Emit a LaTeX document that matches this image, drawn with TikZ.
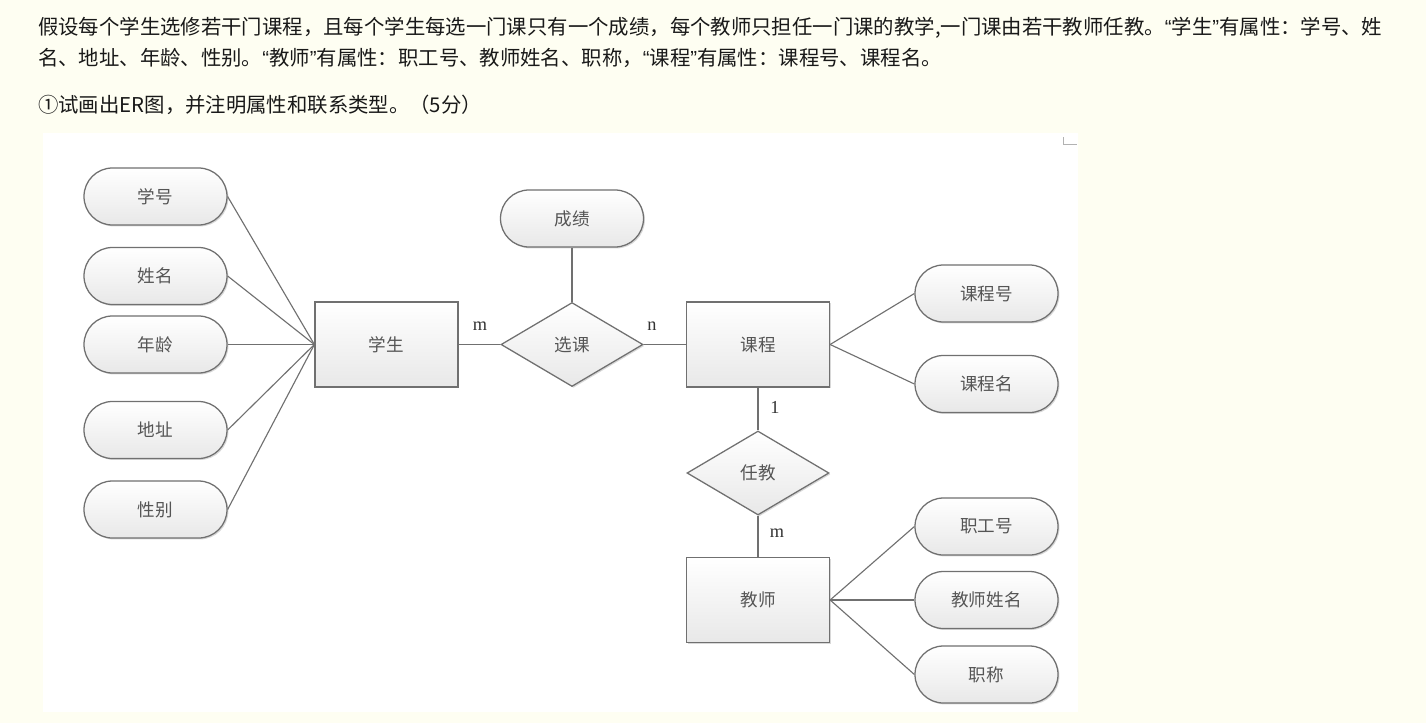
\documentclass[tikz,border=0pt]{standalone}
\usepackage{fontspec}
\setmainfont{Liberation Serif}
\newfontfamily\cjk{Noto Sans CJK SC}
\newfontfamily\qfont{Liberation Sans}
\newcommand{\myLq}{{\qfont “}}
\newcommand{\myRq}{{\qfont ”}}
\usetikzlibrary{shapes.geometric,shadows}
\definecolor{pagebg}{RGB}{254,254,242}
\definecolor{edgecol}{RGB}{112,112,112}
\definecolor{labcol}{RGB}{85,85,85}
\definecolor{headcol}{RGB}{25,25,25}
\begin{document}
\begin{tikzpicture}[x=0.05cm,y=-0.05cm,
  shapebase/.style={draw=edgecol, line width=1.8pt, top color=white, bottom color=black!9,
     drop shadow={shadow xshift=2pt, shadow yshift=-2pt, opacity=0.25, fill=black!60},
     inner sep=0pt, font=\cjk\fontsize{25}{25}\selectfont, text=labcol},
  attr/.style={shapebase, rectangle, rounded corners=1.42cm, minimum width=7.15cm, minimum height=2.85cm},
  ent/.style={shapebase, rectangle, minimum width=7.15cm, minimum height=4.25cm},
  rel/.style={shapebase, diamond, minimum width=7.1cm, minimum height=4.2cm, aspect=1.7},
  conn/.style={draw=edgecol, line width=1.6pt},
  card/.style={font=\fontsize{26}{26}\selectfont, text=black!80, inner sep=0pt},
  head/.style={anchor=west, inner sep=0pt, font=\cjk\fontsize{29}{29}\selectfont, text=headcol}]
\fill[pagebg] (0,0) rectangle (1426,723);
\useasboundingbox (0,0) rectangle (1426,723);
\fill[white] (43,133) rectangle (1078,712);
\draw[black!30, line width=1.2pt] (1063,137) -- (1063,144) -- (1077,144);
% header
\node[head] (h1) at (38,28) {假设每个学生选修若干门课程，且每个学生每选一门课只有一个成绩，每个教师只担任一门课的教学,一门课由若干教师任教。\myLq 学生\myRq 有属性：学号、姓};
\node[head] (h2) at (38,58) {名、地址、年龄、性别。\myLq 教师\myRq 有属性：职工号、教师姓名、职称，\myLq 课程\myRq 有属性：课程号、课程名。};
\node[head] (h3) at (38,105) {①试画出ER图，并注明属性和联系类型。（5分）};
% nodes
\node[attr] (xh) at (155.5,196.5) {学号};
\node[attr] (xm) at (155.5,276) {姓名};
\node[attr] (nl) at (155.5,344.5) {年龄};
\node[attr] (dz) at (155.5,430) {地址};
\node[attr] (xb) at (155.5,509.5) {性别};
\node[ent] (xs) at (386.5,344.5) {学生};
\node[rel] (xk) at (572,344.5) {选课};
\node[attr] (cj) at (572,218.5) {成绩};
\node[ent] (kc) at (758,344.5) {课程};
\node[attr] (kch) at (986.5,293.5) {课程号};
\node[attr] (kcm) at (986.5,384) {课程名};
\node[rel] (rj) at (758,473) {任教};
\node[ent] (js) at (758,600) {教师};
\node[attr] (zgh) at (986.5,526.5) {职工号};
\node[attr] (jsm) at (986.5,600) {教师姓名};
\node[attr] (zc) at (986.5,674.5) {职称};
% connectors
\foreach \a in {xh,xm,nl,dz,xb} \draw[conn] (\a.east) -- (xs.west);
\draw[conn] (xs.east) -- (xk.west);
\draw[conn] (xk.east) -- (kc.west);
\draw[conn] (cj.south) -- (xk.north);
\draw[conn] (kc.east) -- (kch.west);
\draw[conn] (kc.east) -- (kcm.west);
\draw[conn] (kc.south) -- (rj.north);
\draw[conn] (rj.south) -- (js.north);
\foreach \a in {zgh,jsm,zc} \draw[conn] (js.east) -- (\a.west);
% cardinalities
\node[card] (c1) at (480,326) {m};
\node[card] (c2) at (652,326) {n};
\node[card] (c3) at (775,407) {1};
\node[card] (c4) at (777,533) {m};
\end{tikzpicture}
\end{document}
